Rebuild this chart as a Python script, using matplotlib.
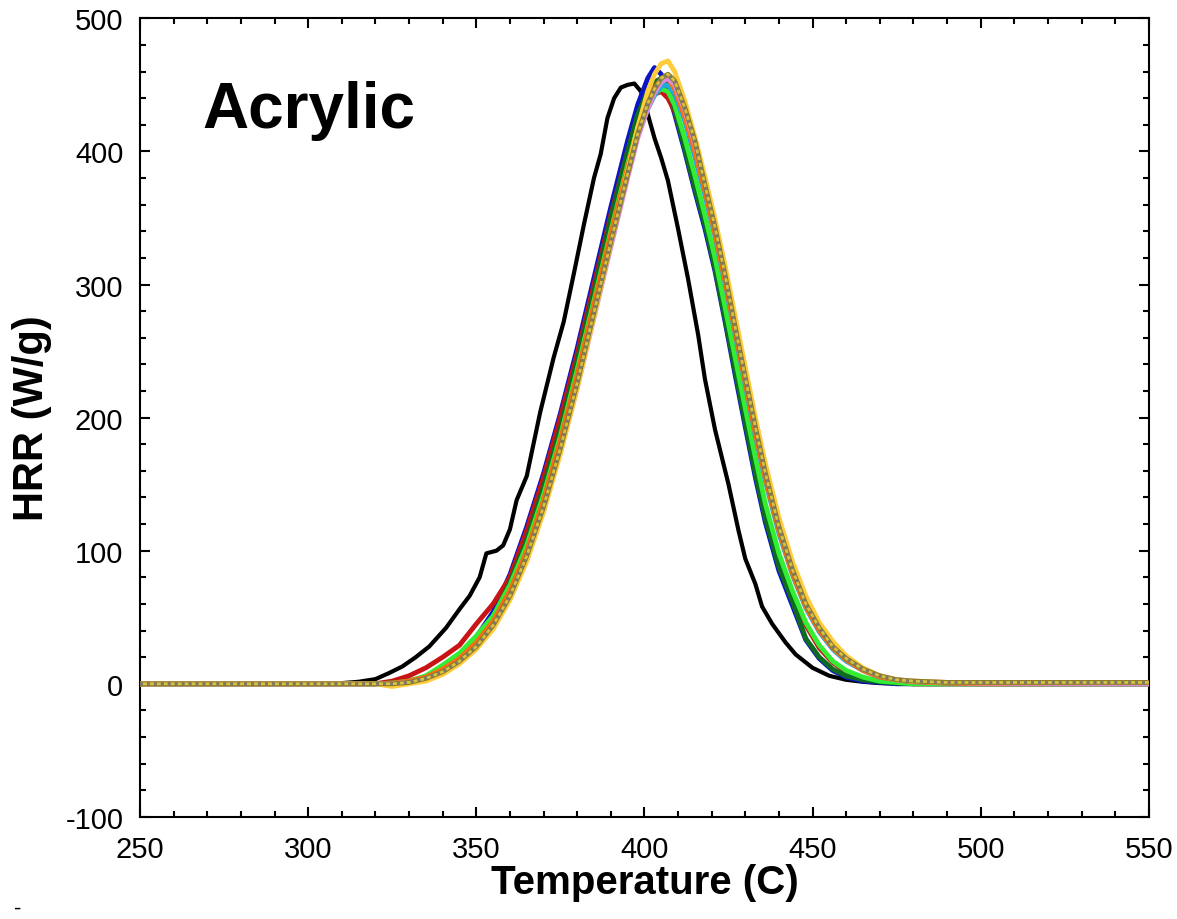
import matplotlib
matplotlib.use("Agg")
import matplotlib.pyplot as plt
from matplotlib.ticker import MultipleLocator

plt.rcParams['font.family'] = ['Liberation Sans', 'DejaVu Sans']
plt.rcParams['axes.unicode_minus'] = False

# ==============================================
# DATA
# ==============================================
temp_black = [250, 300, 310, 315, 320, 324, 328, 332, 336, 341,
              345, 348, 351, 353, 356, 358, 360, 362, 365, 369,
              373, 376, 379, 382, 385, 387, 389, 391, 393, 395,
              397, 399, 401, 403, 405, 407, 410, 413, 416, 418,
              421, 425, 428, 430, 433, 435, 438, 442, 445, 450,
              455, 460, 465, 470, 480, 550]
hrr_black = [0, 0, 0.5, 1.5, 3.5, 8, 13, 20, 28, 42,
             56, 66, 80, 98, 100, 104, 116, 138, 156, 204,
             245, 272, 308, 345, 380, 398, 425, 440, 448, 450,
             451, 445, 428, 410, 395, 378, 342, 304, 262, 229,
             191, 150, 115, 94, 75, 58, 45, 31, 22, 12,
             6, 3, 1.5, 0.5, 0, 0]

temp = [250, 300, 320, 325, 330, 335, 340, 345, 350, 355,
        360, 365, 370, 375, 380, 385, 390, 395, 398, 401,
        403, 405, 407, 409, 412, 415, 418, 421, 424, 427,
        430, 433, 436, 440, 444, 448, 452, 456, 460, 465,
        470, 475, 480, 490, 500, 550]

hrr_blue = [0, 0, 0, 0.5, 2, 5, 11, 21, 35, 54,
            82, 118, 158, 203, 252, 305, 358, 408, 435, 455,
            463, 458, 445, 428, 400, 370, 342, 310, 272, 232,
            193, 155, 121, 85, 59, 33, 19, 10, 5, 2,
            1, 0, 0, 0, 0, 0]
hrr_red = [0, 0, 0, 2, 6, 12, 20, 29, 45, 60,
           80, 115, 155, 200, 248, 300, 352, 400, 425, 438,
           443, 445, 440, 430, 405, 378, 350, 318, 280, 242,
           204, 166, 131, 95, 68, 44, 27, 16, 9, 4,
           2, 1, 0, 0, 0, 0]
hrr_dkgreen = [0, 0, 0, 0.5, 2, 5, 11, 20, 33, 50,
               76, 108, 148, 192, 243, 295, 350, 400, 428, 445,
               452, 455, 450, 432, 402, 372, 345, 312, 274, 235,
               196, 158, 124, 88, 62, 34, 20, 11, 6, 3,
               1.5, 0.5, 0, 0, 0, 0]
hrr_green = [0, 0, 0, 0.5, 2, 6, 14, 23, 36, 51,
             74, 104, 142, 186, 236, 288, 340, 390, 418, 436,
             443, 447, 445, 435, 410, 382, 352, 320, 283, 245,
             207, 170, 135, 98, 70, 46, 29, 17, 10, 5,
             2, 1, 0, 0, 0, 0]
hrr_cyan = [0, 0, 0, 0, 1, 4, 10, 18, 30, 46,
            68, 98, 136, 180, 229, 281, 333, 383, 412, 432,
            442, 449, 450, 443, 423, 396, 367, 336, 300, 262,
            224, 186, 152, 113, 82, 57, 39, 26, 17, 10,
            5, 3, 1.5, 0.5, 0, 0]
hrr_orange = [0, 0, 0, 0.5, 2, 5, 11, 19, 31, 47,
              70, 100, 138, 183, 232, 285, 338, 388, 417, 438,
              448, 454, 455, 447, 426, 400, 370, 338, 302, 264,
              226, 188, 154, 115, 83, 58, 40, 27, 18, 10,
              5, 3, 1.5, 0.5, 0, 0]
hrr_pink = [0, 0, 0, 0, 1, 3, 8, 16, 27, 42,
            64, 93, 130, 174, 222, 275, 328, 380, 410, 432,
            444, 452, 455, 450, 431, 406, 377, 346, 311, 273,
            235, 197, 162, 122, 89, 63, 44, 30, 20, 11,
            6, 3, 2, 1, 0.5, 0]
hrr_gold = [0, 0, 0, -2, 0, 2, 7, 15, 26, 41,
            63, 92, 129, 173, 222, 276, 331, 385, 418, 445,
            458, 466, 468, 460, 438, 411, 381, 349, 314, 276,
            238, 200, 165, 125, 92, 66, 46, 32, 21, 12,
            6, 3, 2, 1, 1, 1]
hrr_brown = [0, 0, 0, 0, 1, 4, 9, 17, 28, 44,
             66, 96, 133, 177, 226, 279, 332, 383, 413, 436,
             447, 455, 458, 453, 433, 408, 375, 343, 307, 268,
             230, 193, 158, 118, 86, 60, 42, 28, 19, 11,
             6, 3, 2, 1, 1, 1]

# ==============================================
# FIGURE
# ==============================================
fig = plt.figure(figsize=(11.77, 9.2), dpi=100)
ax = fig.add_axes([0.119, 0.111, 0.857, 0.868])

ax.plot(temp_black, hrr_black, color="black", lw=3.0, zorder=2)

series = [
    (hrr_blue, "#0a14c8"),
    (hrr_red, "#c81414"),
    (hrr_dkgreen, "#0f6b1e"),
    (hrr_green, "#33ee33"),
    (hrr_cyan, "#1eaadc"),
    (hrr_orange, "#ff6a14"),
    (hrr_pink, "#dc8cdc"),
    (hrr_gold, "#ffcc3c"),
]
for vals, col in series:
    ax.plot(temp, vals, color=col, lw=3.5, zorder=3)

ax.plot(temp, hrr_brown, color="#8c7a28", lw=3.5, zorder=4)
ax.plot(temp, hrr_brown, color="#7a7a70", lw=2.0, ls=(0, (1, 1.5)),
        gapcolor="#d8c040", zorder=5)

ax.set_xlim(250, 550)
ax.set_ylim(-100, 500)
ax.xaxis.set_major_locator(MultipleLocator(50))
ax.xaxis.set_minor_locator(MultipleLocator(10))
ax.yaxis.set_major_locator(MultipleLocator(100))
ax.yaxis.set_minor_locator(MultipleLocator(20))
ax.tick_params(which="both", direction="in", top=True, right=True, width=1.5)
ax.tick_params(which="major", length=7, labelsize=21)
ax.tick_params(which="minor", length=4)
ax.tick_params(axis="x", pad=13)
ax.tick_params(axis="y", pad=12)
for sp in ax.spines.values():
    sp.set_linewidth(1.5)

ax.set_xlabel("Temperature (C)", fontsize=29, fontweight="bold", labelpad=0)
ax.set_ylabel("HRR (W/g)", fontsize=30, fontweight="bold", labelpad=10)

ax.text(268.5, 418, "Acrylic", fontsize=46, fontweight="bold", va="baseline")
fig.text(0.012, 0.0, "-", fontsize=16, va="bottom")

fig.savefig("out.png", dpi=100)
